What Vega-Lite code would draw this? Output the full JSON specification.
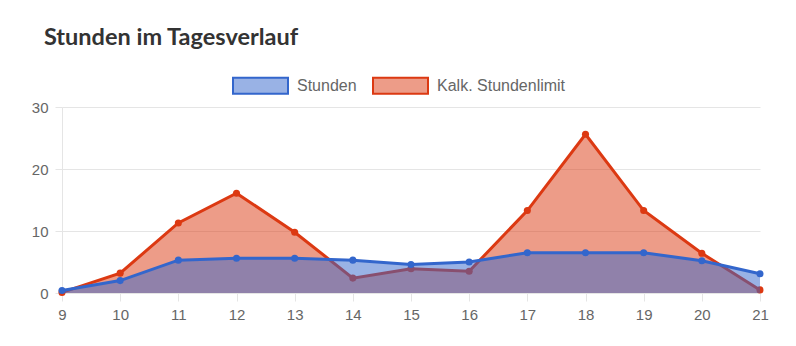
{
  "$schema": "https://vega.github.io/schema/vega-lite/v6.json",
  "width": 698,
  "height": 186,
  "autosize": {"type": "none"},
  "padding": {"left": 62, "top": 107, "right": 36, "bottom": 53},
  "background": "white",
  "config": {"view": {"stroke": null}},
  "title": {
    "text": "Stunden im Tagesverlauf",
    "anchor": "start",
    "frame": "group",
    "font": "Lato",
    "fontSize": 23.5,
    "fontWeight": 700,
    "color": "#333333",
    "baseline": "alphabetic",
    "offset": -11,
    "dx": -18
  },
  "data": {
    "values": [
      {"Stunde": 9, "Serie": "Stunden", "Wert": 0.4},
      {"Stunde": 10, "Serie": "Stunden", "Wert": 2.0},
      {"Stunde": 11, "Serie": "Stunden", "Wert": 5.3},
      {"Stunde": 12, "Serie": "Stunden", "Wert": 5.6},
      {"Stunde": 13, "Serie": "Stunden", "Wert": 5.6},
      {"Stunde": 14, "Serie": "Stunden", "Wert": 5.3},
      {"Stunde": 15, "Serie": "Stunden", "Wert": 4.6},
      {"Stunde": 16, "Serie": "Stunden", "Wert": 5.0},
      {"Stunde": 17, "Serie": "Stunden", "Wert": 6.5},
      {"Stunde": 18, "Serie": "Stunden", "Wert": 6.5},
      {"Stunde": 19, "Serie": "Stunden", "Wert": 6.5},
      {"Stunde": 20, "Serie": "Stunden", "Wert": 5.2},
      {"Stunde": 21, "Serie": "Stunden", "Wert": 3.1},
      {"Stunde": 9, "Serie": "Kalk. Stundenlimit", "Wert": 0.1},
      {"Stunde": 10, "Serie": "Kalk. Stundenlimit", "Wert": 3.2},
      {"Stunde": 11, "Serie": "Kalk. Stundenlimit", "Wert": 11.3},
      {"Stunde": 12, "Serie": "Kalk. Stundenlimit", "Wert": 16.1},
      {"Stunde": 13, "Serie": "Kalk. Stundenlimit", "Wert": 9.8},
      {"Stunde": 14, "Serie": "Kalk. Stundenlimit", "Wert": 2.4},
      {"Stunde": 15, "Serie": "Kalk. Stundenlimit", "Wert": 3.9},
      {"Stunde": 16, "Serie": "Kalk. Stundenlimit", "Wert": 3.5},
      {"Stunde": 17, "Serie": "Kalk. Stundenlimit", "Wert": 13.3},
      {"Stunde": 18, "Serie": "Kalk. Stundenlimit", "Wert": 25.6},
      {"Stunde": 19, "Serie": "Kalk. Stundenlimit", "Wert": 13.3},
      {"Stunde": 20, "Serie": "Kalk. Stundenlimit", "Wert": 6.4},
      {"Stunde": 21, "Serie": "Kalk. Stundenlimit", "Wert": 0.5}
    ]
  },
  "encoding": {
    "x": {
      "field": "Stunde",
      "type": "quantitative",
      "scale": {"domain": [9, 21], "nice": false, "zero": false},
      "axis": {
        "values": [9, 10, 11, 12, 13, 14, 15, 16, 17, 18, 19, 20, 21],
        "format": "d",
        "title": null,
        "grid": false,
        "domain": false,
        "ticks": true,
        "tickSize": 8,
        "tickColor": "#e5e5e5",
        "labelFont": "Liberation Sans",
        "labelFontSize": 15,
        "labelColor": "#666666",
        "labelPadding": 6,
        "labelFlush": false
      }
    },
    "y": {
      "field": "Wert",
      "type": "quantitative",
      "stack": null,
      "scale": {"domain": [0, 30], "nice": false},
      "axis": {
        "values": [0, 10, 20, 30],
        "title": null,
        "grid": true,
        "gridColor": "#e5e5e5",
        "domain": true,
        "domainColor": "#e5e5e5",
        "ticks": true,
        "tickSize": 7,
        "tickColor": "#e5e5e5",
        "labelFont": "Liberation Sans",
        "labelFontSize": 15,
        "labelColor": "#666666",
        "labelPadding": 7
      }
    },
    "color": {
      "field": "Serie",
      "type": "nominal",
      "scale": {"domain": ["Stunden", "Kalk. Stundenlimit"], "range": ["#3366cc", "#dc3912"]},
      "legend": {
        "title": null,
        "orient": "none",
        "direction": "horizontal",
        "legendX": 170,
        "legendY": -50,
        "symbolType": "M-1,-0.29H1V0.29H-1Z",
        "symbolSize": 3025,
        "symbolStrokeWidth": 2,
        "labelFont": "Liberation Sans",
        "labelFontSize": 16,
        "labelColor": "#666666",
        "labelOffset": 8,
        "columnPadding": 12,
        "encoding": {
          "symbols": {
            "fillOpacity": {"value": 0.5},
            "strokeOpacity": {"value": 1},
            "strokeWidth": {"value": 2}
          }
        }
      }
    }
  },
  "layer": [
    {
      "transform": [{"filter": "datum.Serie == 'Kalk. Stundenlimit'"}],
      "mark": {"type": "area", "fillOpacity": 0.5}
    },
    {
      "transform": [{"filter": "datum.Serie == 'Kalk. Stundenlimit'"}],
      "mark": {"type": "line", "strokeWidth": 3}
    },
    {
      "transform": [{"filter": "datum.Serie == 'Kalk. Stundenlimit'"}],
      "mark": {"type": "point", "filled": true, "size": 50, "opacity": 1}
    },
    {
      "transform": [{"filter": "datum.Serie == 'Stunden'"}],
      "mark": {"type": "area", "fillOpacity": 0.5}
    },
    {
      "transform": [{"filter": "datum.Serie == 'Stunden'"}],
      "mark": {"type": "line", "strokeWidth": 3}
    },
    {
      "transform": [{"filter": "datum.Serie == 'Stunden'"}],
      "mark": {"type": "point", "filled": true, "size": 50, "opacity": 1}
    }
  ]
}
